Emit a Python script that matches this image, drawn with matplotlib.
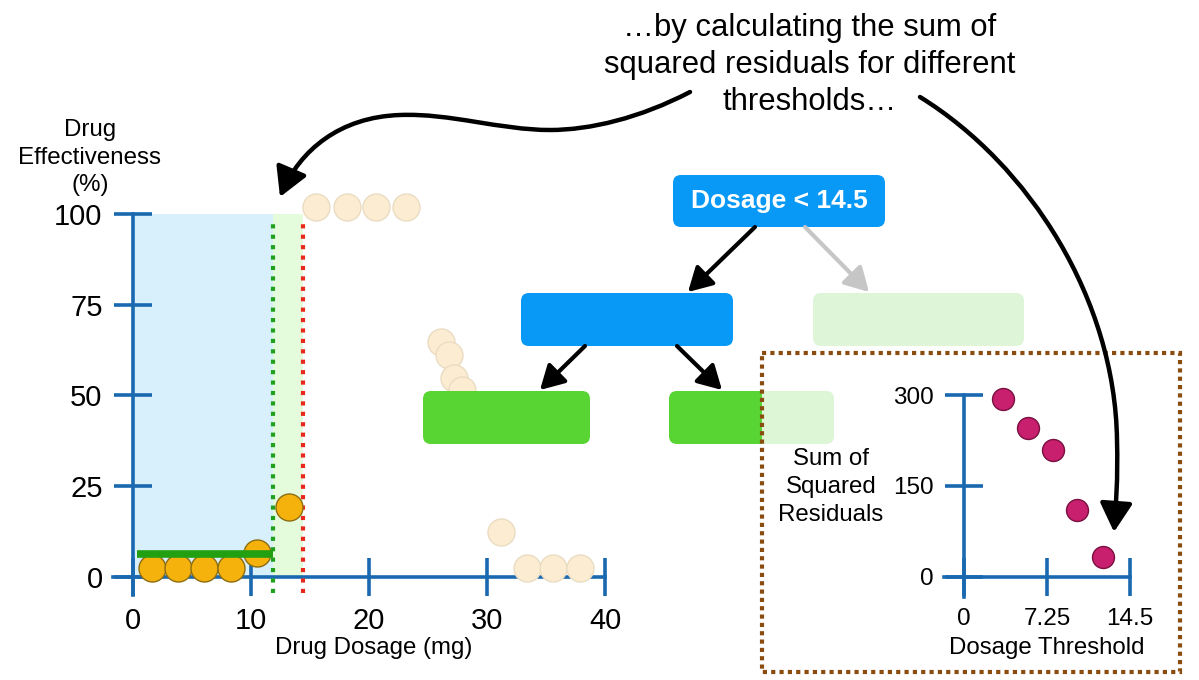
import matplotlib
matplotlib.use("Agg")
import matplotlib.pyplot as plt
from matplotlib.patches import FancyBboxPatch, FancyArrowPatch, Rectangle
from matplotlib.path import Path

plt.rcParams['font.family'] = ['Liberation Sans', 'DejaVu Sans']

# observations used for the current split (left side of threshold + the next one)
dose_fit = [1.6, 3.8, 6.0, 8.3, 10.5, 13.2]
eff_fit = [2.5, 2.5, 2.5, 2.5, 6.6, 19.3]

# remaining (faded) observations
dose_faded = [15.5, 18.1, 20.6, 23.1, 26.1, 26.8, 27.2, 27.9, 31.2, 33.4, 35.6, 37.9]
eff_faded = [102, 102, 102, 102, 64.7, 61.2, 54.9, 51.5, 12.4, 2.5, 2.5, 2.5]

leaf_mean = 6.3
split_prev = 11.9
split_next = 14.4

# sum of squared residuals for each threshold tried so far
thresholds = [3.4, 5.6, 7.8, 9.9, 12.1]
ssr = [293, 245, 209, 110, 33]

main_xticks = [0, 10, 20, 30, 40]
main_yticks = [0, 25, 50, 75, 100]
inset_xticks = [0, 7.25, 14.5]
inset_xticklabels = ['0', '7.25', '14.5']
inset_yticks = [0, 150, 300]

AXIS_BLUE = '#1a69b0'

fig = plt.figure(figsize=(11.99, 6.8), dpi=100)


def style_axes(ax, fs):
    for s in ['top', 'right']:
        ax.spines[s].set_visible(False)
    for s in ['left', 'bottom']:
        ax.spines[s].set_color(AXIS_BLUE)
        ax.spines[s].set_linewidth(2.6)
        ax.spines[s].set_position(('data', 0))
    ax.tick_params(direction='inout', length=28, width=2.6, color=AXIS_BLUE,
                   labelsize=fs, pad=8)
    ax.patch.set_visible(False)


# ---- main scatter plot ----
ax = fig.add_axes([113 / 1199, 1 - 595 / 680, 492 / 1199, 381 / 680], zorder=1)
ax.set_xlim(-1.7, 40)
ax.set_ylim(-5, 100)
style_axes(ax, 21)
ax.set_xticks(main_xticks)
ax.set_yticks(main_yticks)

ax.fill_between([0, split_prev], 0, 100, color='#d8effc', lw=0, zorder=0.5)
ax.fill_between([split_prev, split_next], 0, 100, color='#e4fbdc', lw=0, zorder=0.5)
ax.vlines(split_prev, -4.5, 99, colors='#1fa01f', lw=3, linestyles=(0, (1, 1.5)), zorder=3)
ax.vlines(split_next, -4.5, 99, colors='#e8281c', lw=3, linestyles=(0, (1, 1.5)), zorder=3)

ax.scatter(dose_faded, eff_faded, s=378, color='#fcecd2', edgecolor='#eadcc2',
           lw=1, zorder=3.2, clip_on=False)
ax.scatter(dose_fit, eff_fit, s=378, color='#f6b20c', edgecolor='#8c6d12',
           lw=1, zorder=3.4, clip_on=False)
ax.hlines(leaf_mean, 0.3, split_prev, colors='#22a012', lw=5.5, zorder=4)

ax.set_xlabel('Drug Dosage (mg)', fontsize=17.3, va='center')
ax.xaxis.set_label_coords(0.53, -0.139)
ax.set_ylabel('Drug\nEffectiveness\n(%)', fontsize=17.4, rotation=0,
              ha='center', va='center', linespacing=1.33)
ax.yaxis.set_label_coords(-0.047, 1.148)

# ---- overlay for tree diagram and annotations (pixel coordinates) ----
ov = fig.add_axes([0, 0, 1, 1], zorder=2)
ov.set_xlim(0, 1199)
ov.set_ylim(680, 0)
ov.axis('off')


def box(x0, y0, x1, y1, color, z=2):
    ov.add_patch(FancyBboxPatch((x0, y0), x1 - x0, y1 - y0,
                                boxstyle='round,pad=0,rounding_size=8',
                                fc=color, ec='none', zorder=z))


def arrow(p0, p1, color='black'):
    ov.add_patch(FancyArrowPatch(p0, p1, arrowstyle='-|>,head_length=0.8,head_width=0.45',
                                 mutation_scale=18, lw=3, color=color,
                                 shrinkA=0, shrinkB=0, zorder=3))


box(673, 175, 885, 227, '#0898f5')
ov.text(779, 201, 'Dosage < 14.5', color='white', fontsize=19, fontweight='bold',
        ha='center', va='center', zorder=4)
box(521, 293, 733, 346, '#0898f5')
box(813, 293, 1024, 346, '#def5d7')
box(423, 391, 590, 444, '#58d433')
box(669, 391, 834, 444, '#58d433')

arrow((755, 227), (688, 292))
arrow((805, 227), (869, 292), color='#c6c6c6')
arrow((585, 346), (540, 390))
arrow((677, 346), (722, 390))

# faded panel holding the SSR plot
ov.add_patch(Rectangle((762, 353), 418, 319, fc='white', alpha=0.8, ec='none', zorder=5))
ov.add_patch(Rectangle((762, 353), 418, 319, fill=False, ec='#8b4c10', lw=3,
                       ls=(0, (1, 1)), zorder=6))

ov.text(810, 65, '\u2026by calculating the sum of\nsquared residuals for different\nthresholds\u2026',
        ha='center', va='center', fontsize=22.3, linespacing=1.3, zorder=7)

left_curve = Path([(690, 92), (640, 118), (590, 130), (550, 130),
                   (500, 130), (450, 113), (400, 115),
                   (340, 117), (300, 150), (280, 197)],
                  [Path.MOVETO] + [Path.CURVE4] * 9)
ov.add_patch(FancyArrowPatch(path=left_curve, arrowstyle='-|>,head_length=0.8,head_width=0.45',
                             mutation_scale=22, lw=3.2, color='black', zorder=7))

right_curve = Path([(920, 97), (1030, 165), (1115, 300), (1117, 440),
                    (1118, 480), (1116, 505), (1114, 532)],
                   [Path.MOVETO] + [Path.CURVE4] * 6)
ov.add_patch(FancyArrowPatch(path=right_curve, arrowstyle='-|>,head_length=0.8,head_width=0.45',
                             mutation_scale=22, lw=3.2, color='black', zorder=7))

# ---- inset: SSR vs threshold ----
ins = fig.add_axes([944 / 1199, 1 - 597 / 680, 186 / 1199, 202 / 680], zorder=3)
ins.set_xlim(-1.75, 14.5)
ins.set_ylim(-33, 300)
style_axes(ins, 17.5)
ins.set_xticks(inset_xticks)
ins.set_xticklabels(inset_xticklabels)
ins.set_yticks(inset_yticks)
ins.scatter(thresholds, ssr, s=250, color='#c8206e', edgecolor='#7a1040', lw=1,
            zorder=4, clip_on=False)
ins.set_xlabel('Dosage Threshold', fontsize=17.3, va='center')
ins.xaxis.set_label_coords(0.554, -0.252)
ins.set_ylabel('Sum of\nSquared\nResiduals', fontsize=17.3, rotation=0,
               ha='center', va='center', linespacing=1.33)
ins.yaxis.set_label_coords(-0.608, 0.545)

fig.savefig('out.png', dpi=100)
